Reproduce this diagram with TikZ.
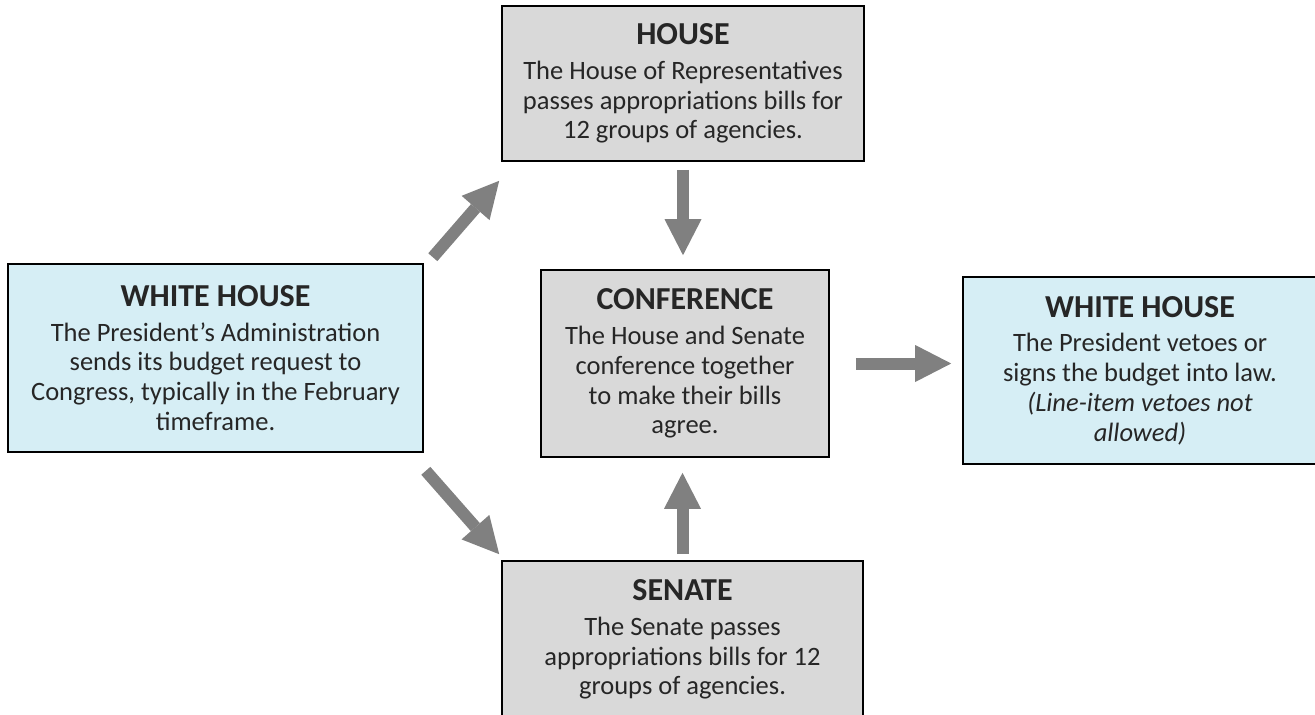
\documentclass[tikz,border=0pt]{standalone}
\usepackage{fontspec}
\setmainfont{Carlito}
\usetikzlibrary{arrows.meta}
\definecolor{boxgray}{HTML}{D9D9D9}
\definecolor{boxblue}{HTML}{D6EEF5}
\definecolor{arrowgray}{HTML}{808080}
\newcommand{\boxtitle}[1]{{\fontsize{32}{34}\selectfont\bfseries #1}\\[5pt]}
\tikzset{
  box/.style={draw=black, line width=1.6pt, align=center, inner sep=0pt,
    font=\fontsize{26.5}{29.8}\selectfont, text=black!85},
  graybox/.style={box, fill=boxgray},
  bluebox/.style={box, fill=boxblue},
  flow/.style={draw=arrowgray, line width=12pt,
    -{Triangle[width=37pt, length=36pt, line width=0pt, fill=arrowgray]}}
}
\begin{document}
\begin{tikzpicture}[x=1pt, y=-1pt]
\useasboundingbox (0,0) rectangle (1315,715);

% Caselle
\node[bluebox, minimum width=415pt, minimum height=188pt] (whl) at (215.5,358)
  {\boxtitle{WHITE HOUSE}The President’s Administration\\sends its budget request to\\Congress, typically in the February\\timeframe.};
\node[graybox, minimum width=362pt, minimum height=155pt] (house) at (683,83.5)
  {\boxtitle{HOUSE}The House of Representatives\\passes appropriations bills for\\12 groups of agencies.};
\node[graybox, minimum width=288pt, minimum height=187pt] (conf) at (685,363.5)
  {\boxtitle{CONFERENCE}The House and Senate\\conference together\\to make their bills\\agree.};
\node[graybox, minimum width=361pt, minimum height=157pt] (senate) at (682.5,639.5)
  {\boxtitle{SENATE}The Senate passes\\appropriations bills for 12\\groups of agencies.};
\node[bluebox, minimum width=354pt, minimum height=187pt] (whr) at (1140,370.5)
  {\boxtitle{WHITE HOUSE}The President vetoes or\\signs the budget into law.\\\textit{(Line-item vetoes not}\\\textit{allowed)}};

% Frecce
\draw[flow] ([shift={(9pt,6pt)}]whl.north east) -- ([shift={(-2pt,-19pt)}]house.south west);
\draw[flow] ([shift={(2pt,-18pt)}]whl.south east) -- ([shift={(-2pt,6pt)}]senate.north west);
\draw[flow] ([yshift=-8pt]house.south) -- ([yshift=14pt]house.south |- conf.north);
\draw[flow] ([yshift=6pt]senate.north) -- ([yshift=-15pt]senate.north |- conf.south);
\draw[flow] ([xshift=26pt]conf.east) -- ([xshift=-11pt]conf.east -| whr.west);

\end{tikzpicture}
\end{document}
